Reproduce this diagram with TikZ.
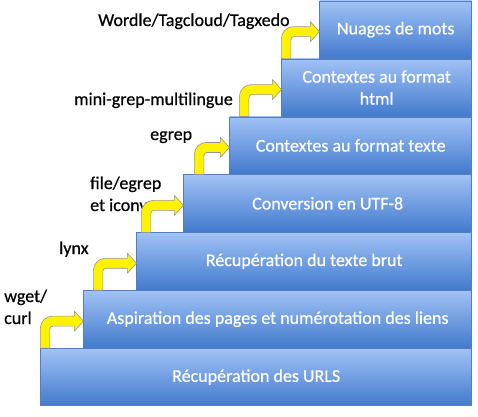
\documentclass[tikz,border=0pt]{standalone}
\usepackage{fontspec}
\setmainfont{Carlito}[FakeBold=0.5]
\usetikzlibrary{positioning, calc}
\definecolor{stepTop}{RGB}{160,194,246}
\definecolor{stepBottom}{RGB}{66,122,205}
\definecolor{stepLine}{RGB}{84,125,185}
\definecolor{arrowLine}{RGB}{150,150,150}

\begin{document}
\begin{tikzpicture}[x=1pt, y=1pt, font=\fontsize{18}{22}\selectfont]
    \tikzstyle{stepbox} = [draw=stepLine, line width=0.6pt, top color=stepTop, bottom color=stepBottom, minimum height=57.3pt, inner sep=0pt, text=white, align=center, anchor=south east]
    \tikzstyle{tool} = [align=left, anchor=base west, inner sep=0pt]
    \tikzstyle{bent} = [fill=yellow, draw=arrowLine, line width=0.6pt, line join=round]

    \useasboundingbox (0,0) rectangle (478,416);

    % the stairs
    \node[stepbox, minimum width=431pt] (s1) at (472,10) {Récupération des URLS};
    \node[stepbox, minimum width=388pt] (s2) at (s1.north east) {Aspiration des pages et numérotation des liens};
    \node[stepbox, minimum width=335pt] (s3) at (s2.north east) {Récupération du texte brut};
    \node[stepbox, minimum width=288pt] (s4) at (s3.north east) {Conversion en UTF-8};
    \node[stepbox, minimum width=242pt] (s5) at (s4.north east) {Contextes au format texte};
    \node[stepbox, minimum width=190pt] (s6) at (s5.north east) {Contextes au format\\html};
    \node[stepbox, minimum width=152pt] (s7) at (s6.north east) {Nuages de mots};

    % the tools (base = last line)
    \node[tool] (t1) at (4,92) {wget/\\curl};
    \node[tool] (t2) at (59,162) {lynx};
    \node[tool] (t3) at (90,205) {file/egrep\\et iconv};
    \node[tool] (t4) at (150,276) {egrep};
    \node[tool] (t5) at (74,311) {mini-grep-multilingue};
    \node[tool] (t6) at (98,390) {Wordle/Tagcloud/Tagxedo};

    % bent arrows from one step to the next
    \foreach \lo/\hi/\off in {s1/s2/0, s2/s3/10, s3/s4/5, s4/s5/11, s5/s6/10, s6/s7/0}
        \draw[bent] let \p1 = (\lo.north west), \p2 = (\hi.west) in
            (\x1+\off, \y1) -- (\x1+\off, \y2-9) arc[start angle=180, end angle=90, radius=12pt]
            -- (\x2-9, \y2+3) -- (\x2-9, \y2+8) -- (\x2, \y2-2) -- (\x2-9, \y2-12) -- (\x2-9, \y2-7)
            -- (\x1+\off+12.5, \y2-7) arc[start angle=90, end angle=180, radius=3pt]
            -- (\x1+\off+9.5, \y1) -- cycle;
\end{tikzpicture}
\end{document}
